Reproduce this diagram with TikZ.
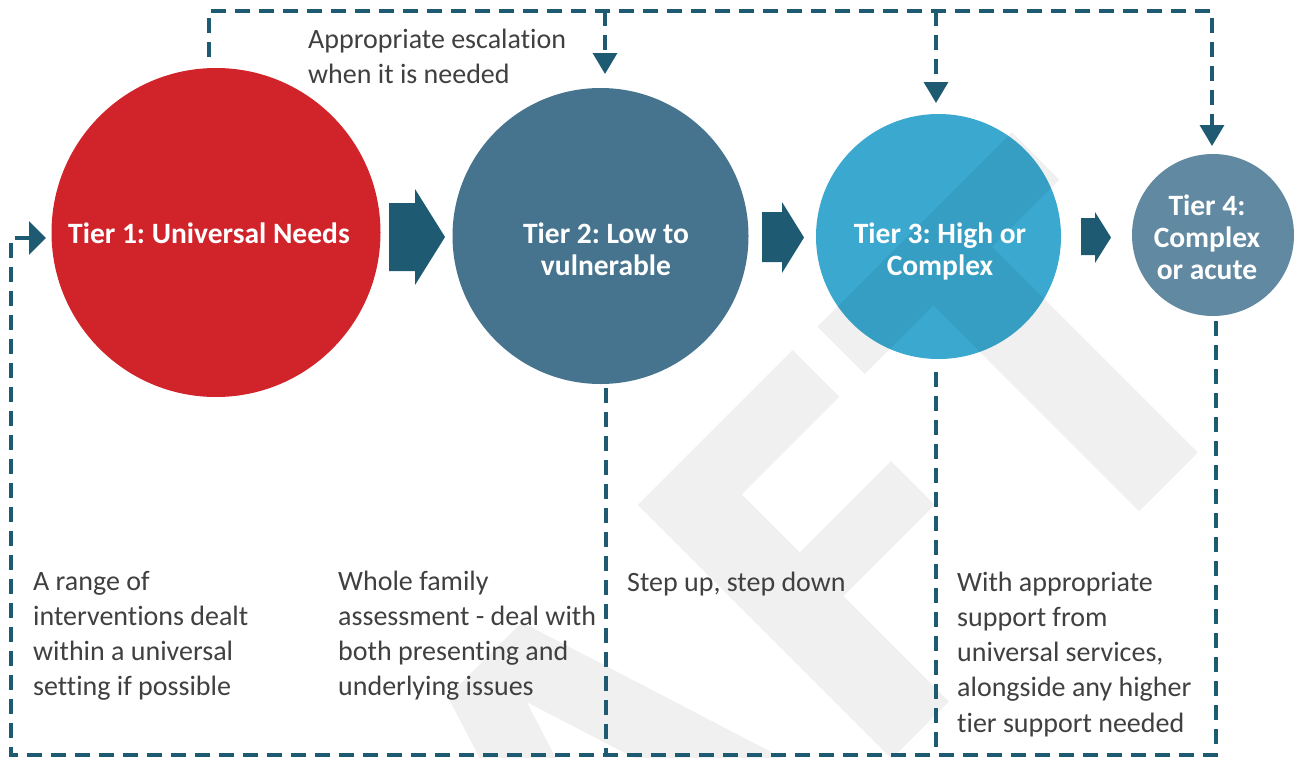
\documentclass[tikz,border=0pt]{standalone}
\usepackage{fontspec}
\newfontfamily\carl[Ligatures=NoCommon]{Carlito}
\usetikzlibrary{arrows.meta}
\definecolor{cone}{HTML}{D1232A}
\definecolor{ctwo}{HTML}{46748E}
\definecolor{cthree}{HTML}{3AA8CF}
\definecolor{cfour}{HTML}{6289A2}
\definecolor{dteal}{HTML}{1F5A73}
\definecolor{txt}{HTML}{404040}
\frenchspacing
\tikzset{
  tiercircle/.style={circle, inner sep=0pt, draw=none},
  blockarrow/.style={fill=dteal, draw=none},
  dl/.style={draw=dteal, line width=3.4pt, dash pattern=on 15pt off 9pt},
  smallhead/.style={-{Triangle[length=21pt,width=24pt]}},
  lefthead/.style={-{Triangle[length=17pt,width=33pt]}},
  bodytext/.style={inner sep=0pt, anchor=base west, text=txt, font=\carl\frenchspacing\fontsize{28}{35.3}\selectfont},
  tierlabel/.style={inner sep=0pt, anchor=base, text=white, font=\carl\frenchspacing\bfseries\fontsize{29.5}{32}\selectfont},
  wmark/.style={fill=black, fill opacity=0.06, draw=none}
}
\begin{document}
\begin{tikzpicture}[x=1pt,y=-1pt]
\useasboundingbox (0,0) rectangle (1302,758);
\fill[white] (0,0) rectangle (1302,758);

% circles
\node[tiercircle, fill=cone, minimum size=329pt] (c1) at (216,232.5) {};
\node[tiercircle, fill=ctwo, minimum size=296pt] (c2) at (600.5,236) {};
\node[tiercircle, fill=cthree, minimum size=245pt] (c3) at (938.5,236.5) {};
\node[tiercircle, fill=cfour, minimum size=162pt] (c4) at (1213,235) {};

% watermark
\begin{scope}
\clip (0,0) rectangle (1302,758);
\begin{scope}[x={(0.70711pt,0.70711pt)}, y={(0.70711pt,-0.70711pt)}]
\fill[wmark, even odd rule] (-176,809) -- (-71,809) -- (42,1167) -- (-30,1167) -- (-54,1090) -- (-194,1090) -- (-218,1167) -- (-289,1167) -- cycle
  (-124,869) -- (-73,1030) -- (-175,1030) -- cycle;
\fill[wmark] (94,808) -- (313,808) -- (313,874) -- (175,874) -- (175,956) -- (304,956) -- (304,1018) -- (175,1018) -- (175,1167) -- (94,1167) -- cycle;
\fill[wmark] (347,809) -- (622,809) -- (622,876) -- (527,876) -- (527,1167) -- (444,1167) -- (444,876) -- (347,876) -- cycle;
\end{scope}
\end{scope}

% block arrows between circles
\fill[blockarrow] (389,203) -- (415,203) -- (415,189) -- (445,237) -- (415,285) -- (415,271) -- (389,271) -- cycle;
\fill[blockarrow] (762,212) -- (782,212) -- (782,202) -- (804,237.5) -- (782,273) -- (782,262) -- (762,262) -- cycle;
\fill[blockarrow] (1081,218) -- (1095,218) -- (1095,212) -- (1111,237.5) -- (1095,263) -- (1095,255) -- (1081,255) -- cycle;

% dashed escalation paths
\coordinate (escstart) at (209,57);
\coordinate (topright) at (1212,11);
\coordinate (e4) at (1212,146);
\coordinate (e2) at (605,74);
\coordinate (e3) at (936,103);
\draw[dl, smallhead] (escstart) |- (topright) -- (e4);
\draw[dl, smallhead] (605,11) -- (e2);
\draw[dl, smallhead] (936,11) -- (e3);

% dashed return paths
\coordinate (s4) at (1216,321);
\coordinate (botleft) at (11,755);
\coordinate (e1) at (46,238);
\draw[dl, lefthead] (s4) |- (botleft) |- (e1);
\draw[dl] (606,388) -- (606,755);
\draw[dl] (936,372) -- (936,755);

% tier labels
\node[tierlabel] (l1) at (209,243) {Tier 1: Universal Needs};
\node[tierlabel] (l2) at (606,243) {\parbox[t]{220pt}{\centering Tier 2: Low to\\vulnerable}};
\node[tierlabel] (l3) at (940,243) {\parbox[t]{220pt}{\centering Tier 3: High or\\Complex}};
\node[tierlabel] (l4) at (1207,215) {\parbox[t]{160pt}{\centering Tier 4:\\Complex\\or acute}};

% texts
\node[bodytext] (esc) at (308,48.5) {\parbox[t]{320pt}{Appropriate escalation\\when it is needed}};
\node[bodytext] (t1) at (33,590) {\parbox[t]{280pt}{A range of\\interventions dealt\\within a universal\\setting if possible}};
\node[bodytext] (t2) at (338,590) {\parbox[t]{280pt}{Whole family\\assessment - deal with\\both presenting and\\underlying issues}};
\node[bodytext] (t3) at (627,591) {Step up, step down};
\node[bodytext] (t4) at (957,591) {\parbox[t]{280pt}{With appropriate\\support from\\universal services,\\alongside any higher\\tier support needed}};
\end{tikzpicture}
\end{document}
